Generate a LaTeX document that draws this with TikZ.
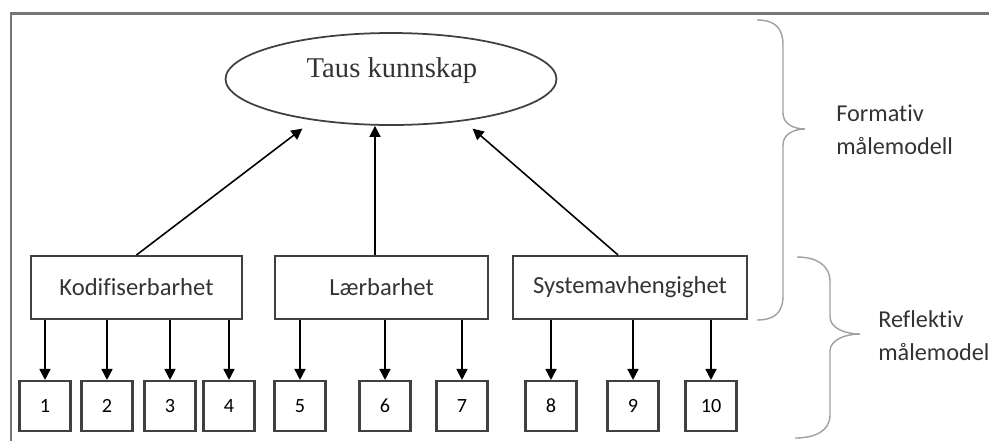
\documentclass[tikz,border=0pt]{standalone}
\usepackage{fontspec}
\setmainfont{Liberation Serif}
\newfontfamily\calibri[Ligatures={NoCommon,NoRequired,NoContextual}]{Carlito}
\usetikzlibrary{shapes.geometric,arrows.meta}
\definecolor{framegray}{HTML}{767676}
\definecolor{linegray}{HTML}{404040}
\definecolor{bracegray}{HTML}{A0A0A0}
\definecolor{textgray}{HTML}{333333}
\tikzset{
  factor/.style={draw=linegray, line width=1.2pt, minimum height=1.26cm,
    font=\calibri\fontsize{14}{16}\selectfont, text=textgray},
  item/.style={draw=linegray, line width=1.2pt, minimum width=1.02cm, minimum height=1cm,
    font=\calibri\fontsize{11.5}{13}\selectfont, text=black},
  arrow/.style={line width=0.9pt, -{Triangle[length=0.22cm,width=0.22cm]}},
  brace/.style={draw=bracegray, line width=0.8pt},
  side/.style={align=left, anchor=west, inner sep=0pt,
    font=\calibri\fontsize{13.8}{18.8}\selectfont, text=textgray}
}
\begin{document}
\begin{tikzpicture}[x=0.02cm, y=-0.02cm]
    \useasboundingbox (0,0) rectangle (989,441);
    \draw[framegray, line width=1.7pt] (11,441) -- (11,13) -- (989,13);
    % latent construct
    \node[ellipse, draw=linegray, line width=1pt, minimum width=6.62cm, minimum height=1.84cm] (taus) at (391,79) {};
    \node[font=\fontsize{16.3}{19}\selectfont, text=black!80] (tauslabel) at (392,71) {Taus kunnskap};
    % dimensions
    \node[factor, minimum width=4.22cm] (kod) at (136.5,287.5) {Kodifiserbarhet};
    \node[factor, minimum width=4.26cm] (laer) at (381.5,287.5) {Lærbarhet};
    \node[factor, minimum width=4.68cm] (sys) at (630,287.5) {Systemavhengighet};
    \draw[arrow, shorten >=0.27cm] (kod.north) -- (taus.208);
    \draw[arrow] ([xshift=-0.13cm]laer.north) -- ([xshift=-0.13cm]laer.north |- taus.south);
    \draw[arrow, shorten >=0.23cm] ([xshift=-0.24cm]sys.north) -- (taus.330.5);
    % indicators
    \node[item] (i1) at (45,406) {1};
    \node[item] (i2) at (107,406) {2};
    \node[item] (i3) at (170,406) {3};
    \node[item] (i4) at (229,406) {4};
    \node[item] (i5) at (300,406) {5};
    \node[item] (i6) at (385,406) {6};
    \node[item] (i7) at (462,406) {7};
    \node[item] (i8) at (551,406) {8};
    \node[item] (i9) at (633,406) {9};
    \node[item] (i10) at (711,406) {10};
    \draw[arrow] (kod.south -| i1.north) -- (i1.north);
    \draw[arrow] (kod.south -| i2.north) -- (i2.north);
    \draw[arrow] (kod.south -| i3.north) -- (i3.north);
    \draw[arrow] (kod.south -| i4.north) -- (i4.north);
    \draw[arrow] (laer.south -| i5.north) -- (i5.north);
    \draw[arrow] (laer.south -| i6.north) -- (i6.north);
    \draw[arrow] (laer.south -| i7.north) -- (i7.north);
    \draw[arrow] (sys.south -| i8.north) -- (i8.north);
    \draw[arrow] (sys.south -| i9.north) -- (i9.north);
    \draw[arrow] (sys.south -| i10.north) -- (i10.north);
    % braces
    \draw[brace] (757,20) .. controls (775,20) and (783,28) .. (783,45) -- (783,113)
      .. controls (783,124) and (794,129) .. (805,129) .. controls (794,129) and (783,134) .. (783,145)
      -- (783,296) .. controls (783,312) and (775,320) .. (757,320);
    \draw[brace] (797,257) .. controls (815,257) and (830,264) .. (830,282) -- (830,317)
      .. controls (830,328) and (845,334) .. (860,334) .. controls (845,334) and (830,340) .. (830,351)
      -- (830,415) .. controls (830,431) and (815,438) .. (795,438);
    \node[side] (formativ) at (836,130) {Formativ\\målemodell};
    \node[side] (reflektiv) at (878,336) {Reflektiv\\målemodel};
  \end{tikzpicture}
\end{document}
